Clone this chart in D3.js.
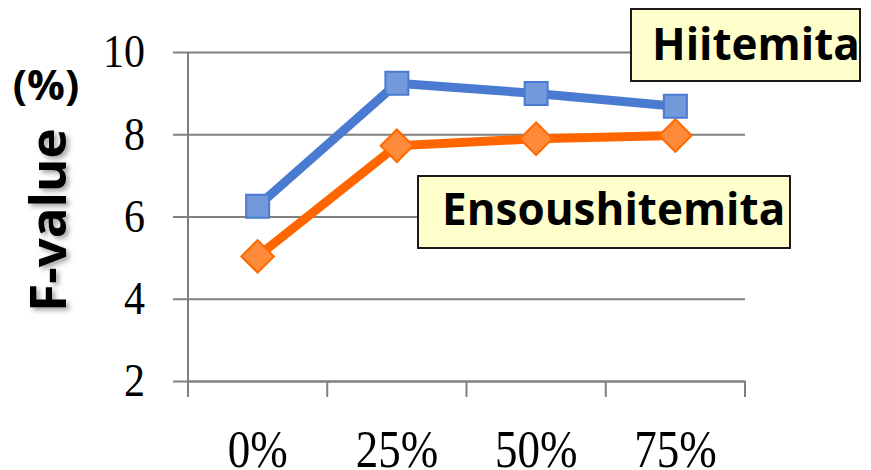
<!DOCTYPE html>
<html>
<head>
<meta charset="utf-8">
<script src="https://cdn.jsdelivr.net/npm/d3@7"></script>
<style>
  body { margin: 0; background: #fff; }
</style>
</head>
<body>
<div id="wrapper"></div>
<script>
// chart data
const categories = ["0%", "25%", "50%", "75%"]
const hiitemitaValues = [6.25, 9.24, 8.99, 8.68]
const ensoushitemitaValues = [5.03, 7.72, 7.89, 7.97]
const yTicks = [2, 4, 6, 8, 10]
const seriesNames = ["Hiitemita", "Ensoushitemita"]
const yTitle = "F-value"
const yUnit = "(%)"

function drawChart() {
    let dimensions = {
        width: 871,
        height: 470,
        margin: { top: 52, right: 126, bottom: 89, left: 188 },
    }
    dimensions.boundedWidth = dimensions.width - dimensions.margin.left - dimensions.margin.right
    dimensions.boundedHeight = dimensions.height - dimensions.margin.top - dimensions.margin.bottom

    const wrapper = d3.select("#wrapper")
        .append("svg")
        .attr("width", dimensions.width)
        .attr("height", dimensions.height)

    const defs = wrapper.append("defs")
    defs.append("filter")
        .attr("id", "shadow")
        .attr("x", "-30%").attr("y", "-30%")
        .attr("width", "160%").attr("height", "160%")
        .append("feDropShadow")
        .attr("dx", 3).attr("dy", 3)
        .attr("stdDeviation", 2.5)
        .attr("flood-color", "#000")
        .attr("flood-opacity", 0.35)

    const bounds = wrapper.append("g")
        .attr("transform", `translate(${dimensions.margin.left},${dimensions.margin.top})`)

    // scales
    const xScale = d3.scaleBand()
        .domain(categories)
        .range([0, dimensions.boundedWidth])

    const yScale = d3.scaleLinear()
        .domain([2, 10])
        .range([dimensions.boundedHeight, 0])

    // gridlines
    bounds.append("g")
        .call(d3.axisLeft(yScale).tickValues(yTicks).tickSize(-dimensions.boundedWidth).tickFormat(""))
        .call(g => g.select(".domain").remove())
        .call(g => g.selectAll("line").attr("stroke", "#808080").attr("stroke-width", 2))

    // y axis with outer tick marks and serif labels
    const yAxis = bounds.append("g")
        .call(d3.axisLeft(yScale).tickValues(yTicks).tickSize(15).tickPadding(28))
        .call(g => g.select(".domain").remove())
    yAxis.selectAll("line").attr("stroke", "#808080").attr("stroke-width", 2)
    yAxis.selectAll("text")
        .attr("font-family", "'Liberation Serif', 'Times New Roman', serif")
        .attr("font-size", 42)
        .attr("fill", "#000")
        .attr("transform", "scale(1,1.1)")

    // vertical axis line
    bounds.append("line")
        .attr("x1", 0).attr("x2", 0)
        .attr("y1", 0).attr("y2", dimensions.boundedHeight + 15)
        .attr("stroke", "#808080").attr("stroke-width", 2)

    // x axis labels at band centers
    const xAxis = bounds.append("g")
        .attr("transform", `translate(0,${dimensions.boundedHeight})`)
        .call(d3.axisBottom(xScale).tickSize(0).tickPadding(0))
    xAxis.select(".domain").attr("stroke", "#808080").attr("stroke-width", 2)
    xAxis.selectAll("text")
        .attr("font-family", "'Liberation Serif', 'Times New Roman', serif")
        .attr("font-size", 45)
        .attr("fill", "#000")
        .attr("y", 43)
        .attr("transform", "scale(1,1.15)")

    // x tick marks at band boundaries
    const boundaries = categories.map(c => xScale(c)).concat([xScale.range()[1]])
    xAxis.selectAll(".bound-tick")
        .data(boundaries)
        .join("line")
        .attr("class", "bound-tick")
        .attr("x1", d => d).attr("x2", d => d)
        .attr("y1", 0).attr("y2", 16)
        .attr("stroke", "#808080").attr("stroke-width", 2)

    const xCenter = (d, i) => xScale(categories[i]) + xScale.bandwidth() / 2

    const lineGenerator = d3.line()
        .x(xCenter)
        .y(d => yScale(d))

    // Ensoushitemita series (orange)
    bounds.append("path")
        .attr("d", lineGenerator(ensoushitemitaValues))
        .attr("fill", "none")
        .attr("stroke", "#ff6600")
        .attr("stroke-width", 9)
        .attr("stroke-linejoin", "round")

    // Hiitemita series (blue)
    bounds.append("path")
        .attr("d", lineGenerator(hiitemitaValues))
        .attr("fill", "none")
        .attr("stroke", "#4a7bd0")
        .attr("stroke-width", 9)
        .attr("stroke-linejoin", "round")

    const squareSymbol = d3.symbol().type(d3.symbolSquare).size(23 * 23)

    bounds.append("g")
        .selectAll("path")
        .data(ensoushitemitaValues)
        .join("path")
        .attr("d", squareSymbol)
        .attr("transform", (d, i) => `translate(${xCenter(d, i)},${yScale(d)}) rotate(45)`)
        .attr("fill", "#ff8a3a")
        .attr("stroke", "#ff6a00")
        .attr("stroke-width", 2)

    bounds.append("g")
        .selectAll("path")
        .data(hiitemitaValues)
        .join("path")
        .attr("d", squareSymbol)
        .attr("transform", (d, i) => `translate(${xCenter(d, i)},${yScale(d)})`)
        .attr("fill", "#7399da")
        .attr("stroke", "#4a7bd0")
        .attr("stroke-width", 2)

    // series label boxes
    const labelBoxes = [
        { name: seriesNames[0], x: 631, y: 9, w: 229, h: 72, tx: 652, ty: 60 },
        { name: seriesNames[1], x: 418, y: 176, w: 372, h: 72, tx: 442, ty: 225 },
    ]
    const boxes = wrapper.append("g")
        .selectAll("g")
        .data(labelBoxes)
        .join("g")
    boxes.append("rect")
        .attr("x", d => d.x).attr("y", d => d.y)
        .attr("width", d => d.w).attr("height", d => d.h)
        .attr("fill", "#ffffcc")
        .attr("stroke", "#1a1a1a")
        .attr("stroke-width", 2)
    boxes.append("text")
        .attr("x", d => d.tx).attr("y", d => d.ty)
        .attr("font-family", "'Open Sans', sans-serif")
        .attr("font-weight", "bold")
        .attr("font-size", 44)
        .attr("fill", "#000")
        .text(d => d.name)

    // y axis title with shadow
    wrapper.append("g")
        .attr("filter", "url(#shadow)")
        .append("text")
        .attr("transform", "translate(66,220) rotate(-90)")
        .attr("text-anchor", "middle")
        .attr("font-family", "'Open Sans', sans-serif")
        .attr("font-weight", "bold")
        .attr("font-size", 51)
        .attr("fill", "#000")
        .text(yTitle)

    wrapper.append("text")
        .attr("x", 46)
        .attr("y", 100)
        .attr("text-anchor", "middle")
        .attr("font-family", "'Open Sans', sans-serif")
        .attr("font-weight", "bold")
        .attr("font-size", 42)
        .attr("fill", "#000")
        .text(yUnit)
}

drawChart()
</script>
</body>
</html>
